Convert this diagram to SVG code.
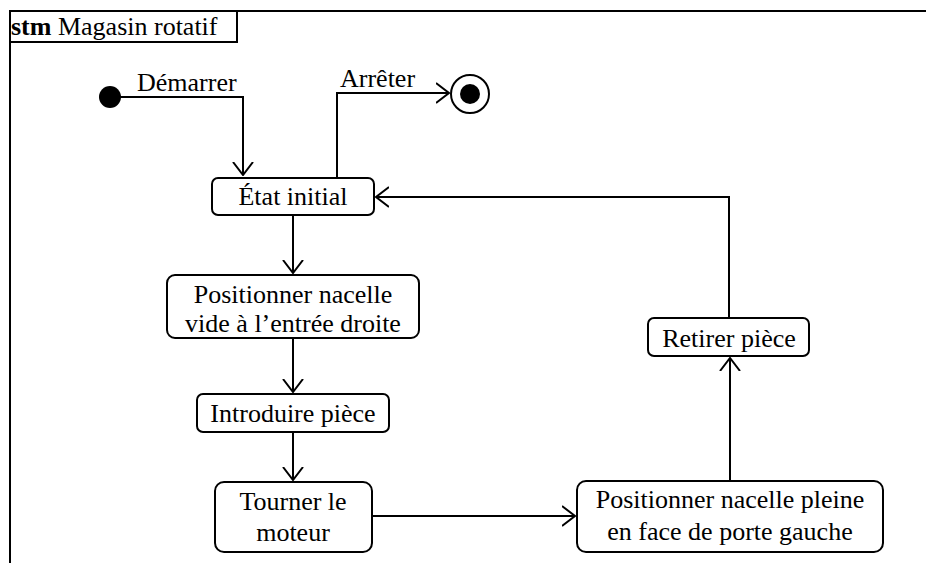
<svg xmlns="http://www.w3.org/2000/svg" width="926" height="563" viewBox="0 0 926 563">
<defs>
<style>
.frame{fill:none;stroke:#000;stroke-width:2}
.st{fill:#fff;stroke:#000;stroke-width:2}
.ln{fill:none;stroke:#000;stroke-width:2}
.lbl{font-family:'Liberation Serif','Times New Roman',serif;font-size:26px;fill:#000}
.mid{text-anchor:middle}
</style>
<marker id="ah" viewBox="0 0 14 22" refX="13" refY="11" markerWidth="14" markerHeight="22" markerUnits="userSpaceOnUse" orient="auto">
<path d="M0,1 L13,11 L0,21" fill="none" stroke="#000" stroke-width="2"/>
</marker>
</defs>
<rect width="926" height="563" fill="#fff"/>
<g id="frame">
<path class="frame" d="M10,563 V11 H926"/>
<path class="frame" d="M10,42 H237 V11"/>
<text class="lbl" x="11" y="35"><tspan font-weight="bold">stm</tspan> Magasin rotatif</text>
</g>
<g id="connectors">
<path class="ln" d="M110,97 H243 V175" marker-end="url(#ah)"/>
<text class="lbl" x="137" y="91">Démarrer</text>
<path class="ln" d="M337,178 V93 H449" marker-end="url(#ah)"/>
<text class="lbl" x="340" y="87">Arrêter</text>
<path class="ln" d="M293,215 V273" marker-end="url(#ah)"/>
<path class="ln" d="M293,338 V392" marker-end="url(#ah)"/>
<path class="ln" d="M293,432 V480" marker-end="url(#ah)"/>
<path class="ln" d="M372,516 H575" marker-end="url(#ah)"/>
<path class="ln" d="M730,481 V358" marker-end="url(#ah)"/>
<path class="ln" d="M729,318 V197 H376" marker-end="url(#ah)"/>
</g>
<g id="start"><circle cx="110" cy="97" r="11" fill="#000"/></g>
<g id="end"><circle cx="470" cy="94" r="19" fill="#fff" stroke="#000" stroke-width="2"/><circle cx="470" cy="94" r="10" fill="#000"/></g>
<g id="etat-initial">
<rect class="st" x="212" y="178" width="162" height="37" rx="6"/>
<text class="lbl mid" x="293" y="205">État initial</text>
</g>
<g id="positionner-vide">
<rect class="st" x="167" y="275" width="252" height="63" rx="8"/>
<text class="lbl mid" x="293" y="303">Positionner nacelle</text>
<text class="lbl mid" x="293" y="332">vide à l’entrée droite</text>
</g>
<g id="introduire">
<rect class="st" x="197" y="394" width="192" height="38" rx="6"/>
<text class="lbl mid" x="293" y="422">Introduire pièce</text>
</g>
<g id="tourner">
<rect class="st" x="215" y="482" width="157" height="70" rx="9"/>
<text class="lbl mid" x="293" y="510">Tourner le</text>
<text class="lbl mid" x="293" y="541">moteur</text>
</g>
<g id="positionner-pleine">
<rect class="st" x="577" y="481" width="306" height="71" rx="9"/>
<text class="lbl mid" x="730" y="508">Positionner nacelle pleine</text>
<text class="lbl mid" x="730" y="540">en face de porte gauche</text>
</g>
<g id="retirer">
<rect class="st" x="648" y="318" width="161" height="38" rx="6"/>
<text class="lbl mid" x="729" y="347">Retirer pièce</text>
</g>
</svg>
